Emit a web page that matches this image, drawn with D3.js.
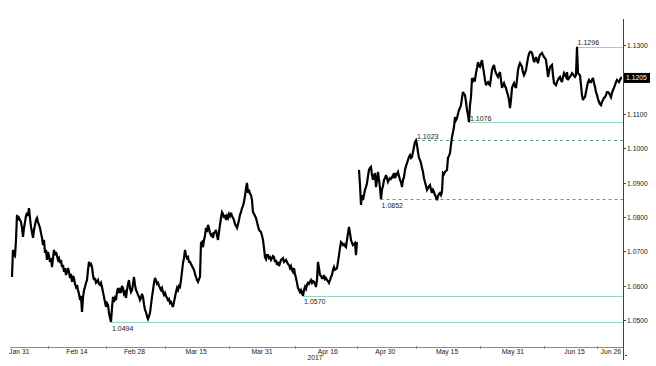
<!DOCTYPE html>
<html><head><meta charset="utf-8">
<script src="https://cdn.jsdelivr.net/npm/d3@7"></script>
<style>
body{margin:0;background:#fff}
svg{display:block}
text{font-family:"Liberation Sans",Arial,sans-serif}
</style>
</head><body>
<svg id="c" width="656" height="366"></svg>
<script>
// ---- DATA ----
const firstSampleTime = "2017-01-29T05:24:00Z";
const sampleStepHours = 5.835;
const segmentBeforeGap = [
1.0625,1.0704,1.0689,1.0686,1.0733,1.0806,1.0791,1.0797,1.0791,1.0785,
1.0768,1.0742,1.0768,1.0785,1.0803,1.0812,1.0803,1.0826,1.0797,1.0771,
1.0756,1.0739,1.0762,1.0777,1.0791,1.0797,1.0785,1.0777,1.0768,1.0753,
1.0739,1.0718,1.0733,1.0695,1.0704,1.0675,1.0698,1.0686,1.0669,1.0680,
1.0654,1.0680,1.0704,1.0689,1.0698,1.0686,1.0675,1.0680,1.0666,1.0675,
1.0654,1.0660,1.0640,1.0651,1.0631,1.0640,1.0651,1.0640,1.0622,1.0634,
1.0611,1.0628,1.0622,1.0605,1.0596,1.0602,1.0587,1.0576,1.0558,1.0570,
1.0523,1.0564,1.0587,1.0596,1.0608,1.0616,1.0646,1.0669,1.0660,1.0663,
1.0654,1.0631,1.0616,1.0622,1.0608,1.0611,1.0616,1.0605,1.0602,1.0608,
1.0596,1.0581,1.0567,1.0552,1.0538,1.0549,1.0544,1.0520,1.0506,1.0494,
1.0535,1.0567,1.0552,1.0564,1.0558,1.0581,1.0593,1.0579,1.0587,1.0579,
1.0599,1.0593,1.0576,1.0581,1.0564,1.0587,1.0605,1.0616,1.0593,1.0581,
1.0587,1.0605,1.0625,1.0602,1.0587,1.0581,1.0573,1.0567,1.0558,1.0564,
1.0576,1.0567,1.0546,1.0529,1.0523,1.0511,1.0503,1.0511,1.0520,1.0544,
1.0567,1.0587,1.0608,1.0622,1.0616,1.0605,1.0608,1.0599,1.0593,1.0587,
1.0593,1.0581,1.0573,1.0579,1.0570,1.0564,1.0558,1.0561,1.0549,1.0552,
1.0544,1.0538,1.0552,1.0567,1.0581,1.0593,1.0587,1.0599,1.0596,1.0616,
1.0640,1.0666,1.0680,1.0704,1.0689,1.0680,1.0683,1.0669,1.0669,1.0663,
1.0657,1.0651,1.0646,1.0634,1.0625,1.0616,1.0611,1.0619,1.0625,1.0724,
1.0727,1.0712,1.0733,1.0745,1.0768,1.0756,1.0777,1.0768,1.0753,1.0747,
1.0750,1.0739,1.0753,1.0756,1.0762,1.0745,1.0733,1.0756,1.0777,1.0797,
1.0814,1.0809,1.0797,1.0806,1.0791,1.0803,1.0797,1.0809,1.0803,1.0812,
1.0803,1.0797,1.0791,1.0779,1.0774,1.0768,1.0779,1.0791,1.0806,1.0814,
1.0826,1.0832,1.0844,1.0861,1.0884,1.0899,1.0870,1.0879,1.0867,1.0864,
1.0849,1.0814,1.0809,1.0803,1.0797,1.0785,1.0774,1.0762,1.0759,1.0756,
1.0745,1.0733,1.0710,1.0683,1.0677,1.0689,1.0689,1.0680,1.0683,1.0675,
1.0680,1.0686,1.0683,1.0669,1.0675,1.0660,1.0669,1.0657,1.0666,1.0675,
1.0677,1.0680,1.0669,1.0672,1.0675,1.0669,1.0663,1.0660,1.0651,1.0657,
1.0646,1.0640,1.0651,1.0634,1.0622,1.0608,1.0593,1.0587,1.0581,1.0587,
1.0579,1.0570,1.0587,1.0596,1.0590,1.0602,1.0608,1.0605,1.0611,1.0616,
1.0608,1.0613,1.0611,1.0605,1.0596,1.0616,1.0669,1.0651,1.0631,1.0628,
1.0622,1.0622,1.0631,1.0619,1.0622,1.0616,1.0613,1.0608,1.0616,1.0625,
1.0631,1.0646,1.0654,1.0646,1.0648,1.0651,1.0669,1.0689,1.0710,1.0727,
1.0724,1.0718,1.0721,1.0715,1.0712,1.0733,1.0753,1.0771,1.0753,1.0733,
1.0724,1.0718,1.0721,1.0724,1.0689,1.0727
];
const segmentAfterGap = [
1.0937,1.0893,1.0835,1.0864,1.0849,1.0864,1.0879,1.0887,1.0899,1.0919,
1.0937,1.0943,1.0946,1.0922,1.0908,1.0919,1.0928,1.0887,1.0908,1.0931,
1.0908,1.0884,1.0852,1.0879,1.0890,1.0908,1.0913,1.0922,1.0913,1.0902,
1.0908,1.0913,1.0911,1.0916,1.0922,1.0913,1.0928,1.0919,1.0925,1.0931,
1.0919,1.0908,1.0902,1.0887,1.0908,1.0916,1.0937,1.0948,1.0957,1.0966,
1.0975,1.0980,1.0972,1.0975,1.0989,1.1004,1.1018,1.1023,1.1010,1.0989,
1.0972,1.0966,1.0957,1.0943,1.0931,1.0913,1.0902,1.0890,1.0879,1.0884,
1.0890,1.0893,1.0879,1.0870,1.0879,1.0873,1.0864,1.0858,1.0849,1.0861,
1.0867,1.0870,1.0864,1.0873,1.0928,1.0925,1.0931,1.0934,1.0937,1.0972,
1.0978,1.0986,1.1010,1.1033,1.1047,1.1062,1.1091,1.1082,1.1088,1.1100,
1.1112,1.1117,1.1126,1.1147,1.1164,1.1158,1.1155,1.1135,1.1112,1.1097,
1.1076,1.1126,1.1149,1.1205,1.1193,1.1202,1.1199,1.1219,1.1234,1.1251,
1.1240,1.1237,1.1248,1.1257,1.1237,1.1219,1.1199,1.1184,1.1190,1.1193,
1.1187,1.1184,1.1205,1.1228,1.1237,1.1243,1.1228,1.1219,1.1213,1.1208,
1.1216,1.1222,1.1199,1.1176,1.1184,1.1190,1.1181,1.1176,1.1164,1.1155,
1.1141,1.1117,1.1141,1.1176,1.1184,1.1190,1.1181,1.1176,1.1199,1.1228,
1.1240,1.1248,1.1243,1.1237,1.1222,1.1213,1.1219,1.1228,1.1246,1.1263,
1.1275,1.1281,1.1281,1.1278,1.1266,1.1251,1.1257,1.1266,1.1257,1.1248,
1.1263,1.1272,1.1275,1.1278,1.1272,1.1266,1.1263,1.1257,1.1234,1.1208,
1.1222,1.1237,1.1240,1.1243,1.1213,1.1190,1.1187,1.1184,1.1193,1.1199,
1.1205,1.1208,1.1199,1.1193,1.1208,1.1219,1.1213,1.1208,1.1222,1.1199,
1.1205,1.1208,1.1213,1.1219,1.1216,1.1211,1.1208,1.1213,1.1296,1.1219,
1.1216,1.1213,1.1184,1.1155,1.1141,1.1147,1.1149,1.1164,1.1179,1.1193,
1.1199,1.1193,1.1193,1.1199,1.1205,1.1190,1.1179,1.1164,1.1155,1.1144,
1.1135,1.1129,1.1126,1.1135,1.1141,1.1147,1.1149,1.1155,1.1164,1.1164,
1.1161,1.1155,1.1149,1.1161,1.1170,1.1176,1.1184,1.1193,1.1199,1.1196,
1.1193,1.1199,1.1205,1.1205
];
const yTickValues = [1.05,1.06,1.07,1.08,1.09,1.10,1.11,1.12,1.13];
const xTickDates = ["2017-01-31","2017-02-14","2017-02-28","2017-03-15","2017-03-31","2017-04-16","2017-04-30","2017-05-15","2017-05-31","2017-06-15","2017-06-26"];
const xTickLabels = ["Jan 31","Feb 14","Feb 28","Mar 15","Mar 31","Apr 16","Apr 30","May 15","May 31","Jun 15","Jun 26"];
const yearLabel = "2017";
const levelValues = [1.0494, 1.0570, 1.0852, 1.1023, 1.1076, 1.1296];
const levelDates = ["2017-02-22T07:00:00Z","2017-04-10T00:00:00Z","2017-04-28T20:00:00Z","2017-05-07T11:00:00Z","2017-05-20T08:00:00Z","2017-06-15T12:00:00Z"];
const levelTypes = ["low","low","low","high","high","high"];
const levelDashed = [false,false,true,true,false,false];

// ---- BUILD ----
const t0 = new Date(firstSampleTime).getTime();
const stepMs = sampleStepHours * 3600 * 1000;
const allValues = segmentBeforeGap.concat([null], segmentAfterGap);
const series = allValues.map((v, i) => ({t: new Date(t0 + i * stepMs), v}));

const axisX = 623, axisY = 347;
const svg = d3.select("#c");

const x = d3.scaleUtc()
  .domain([new Date("2017-01-31T00:00:00Z"), new Date("2017-06-26T00:00:00Z")])
  .range([19.3, 619.8]);
const y = d3.scaleLinear().domain([1.0494, 1.1296]).range([322, 46.7]);

// level lines
levelValues.forEach((lv, i) => {
  const x0 = x(new Date(levelDates[i]));
  const yy = Math.round(y(lv)) + 0.5;
  svg.append("line")
    .attr("x1", x0).attr("x2", axisX).attr("y1", yy).attr("y2", yy)
    .attr("stroke", levelDashed[i] ? "#5f9c86" : "#8fd6bb")
    .attr("stroke-width", 1)
    .attr("stroke-dasharray", levelDashed[i] ? "3,3" : null);
});

// price line
const line = d3.line()
  .defined(d => d.v != null)
  .x(d => x(d.t)).y(d => y(d.v));
svg.append("path").datum(series)
  .attr("d", line)
  .attr("fill", "none")
  .attr("stroke", "#000")
  .attr("stroke-width", 2.2)
  .attr("stroke-linejoin", "miter")
  .attr("stroke-miterlimit", 3);

// level labels
levelValues.forEach((lv, i) => {
  const x0 = x(new Date(levelDates[i]));
  const yy = y(lv);
  svg.append("text")
    .attr("x", x0 + 1)
    .attr("y", levelTypes[i] === "low" ? yy + 8.5 : yy - 1.5)
    .attr("font-size", 7)
    .attr("fill", "#222")
    .text(lv.toFixed(4));
});

// bottom axis
svg.append("line").attr("x1", 10).attr("x2", axisX).attr("y1", axisY + 0.5).attr("y2", axisY + 0.5)
  .attr("stroke", "#8a8a8a").attr("stroke-width", 1);
const tickXs = xTickDates.map(d => x(new Date(d + "T00:00:00Z")));
for (let i = 0; i < tickXs.length - 1; i++) {
  const mx = Math.round((tickXs[i] + tickXs[i + 1]) / 2) + 0.5;
  svg.append("line").attr("x1", mx).attr("x2", mx).attr("y1", axisY - 1).attr("y2", axisY + 2)
    .attr("stroke", "#8a8a8a");
}
xTickLabels.forEach((lab, i) => {
  let px = tickXs[i];
  const t = svg.append("text").attr("font-size", 6.8).attr("fill", "#222")
    .attr("y", axisY + 6.5).attr("text-anchor", "middle").text(lab);
  const w = t.node().getComputedTextLength();
  if (px + w / 2 > axisX - 2) px = axisX - 2 - w / 2;
  t.attr("x", px);
});
svg.append("text").attr("x", 315).attr("y", axisY + 13).attr("font-size", 6.8)
  .attr("fill", "#222").attr("text-anchor", "middle").text(yearLabel);

// right axis
const last = segmentAfterGap[segmentAfterGap.length - 1];
const ly = y(last);
svg.append("line").attr("x1", axisX + 0.5).attr("x2", axisX + 0.5).attr("y1", 19).attr("y2", 360)
  .attr("stroke", "#444").attr("stroke-width", 1);
yTickValues.forEach(v => {
  const yy = Math.round(y(v)) + 0.5;
  svg.append("line").attr("x1", axisX).attr("x2", axisX + 3).attr("y1", yy).attr("y2", yy)
    .attr("stroke", "#444");
  if (Math.abs(yy - ly) > 9) {
    svg.append("text").attr("x", axisX + 4).attr("y", yy + 2.5).attr("font-size", 6.8)
      .attr("fill", "#222").text(v.toFixed(4));
  }
});
// last value tag
svg.append("rect").attr("x", axisX + 1).attr("y", ly - 5).attr("width", 26).attr("height", 10).attr("fill", "#000");
svg.append("text").attr("x", axisX + 3).attr("y", ly + 2.5).attr("font-size", 6.8)
  .attr("fill", "#fff").text(last.toFixed(4));
svg.append("line").attr("x1", axisX + 2).attr("x2", axisX + 4).attr("y1", 355.5).attr("y2", 355.5).attr("stroke", "#444");
</script>
</body></html>
